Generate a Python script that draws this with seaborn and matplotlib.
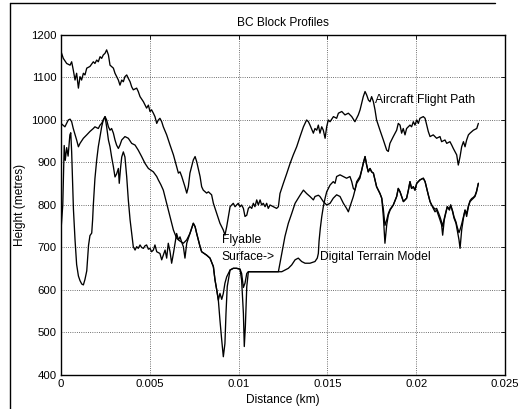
import matplotlib
matplotlib.use("Agg")
import matplotlib.pyplot as plt
from matplotlib.lines import Line2D
import seaborn as sns
import pandas as pd

# ---------------- data (distance in km, height in metres) ----------------
flight_dist = [0.00000, 0.00013, 0.00032, 0.00051, 0.00060, 0.00069, 0.00079, 0.00088, 0.00098, 0.00107,
               0.00116, 0.00126, 0.00135, 0.00145, 0.00163, 0.00182, 0.00191, 0.00201, 0.00210, 0.00220,
               0.00229, 0.00238, 0.00248, 0.00257, 0.00267, 0.00276, 0.00295, 0.00304, 0.00323, 0.00332,
               0.00342, 0.00351, 0.00360, 0.00370, 0.00379, 0.00389, 0.00398, 0.00407, 0.00426, 0.00435,
               0.00445, 0.00464, 0.00482, 0.00492, 0.00501, 0.00510, 0.00520, 0.00529, 0.00539, 0.00548,
               0.00557, 0.00567, 0.00576, 0.00595, 0.00614, 0.00633, 0.00651, 0.00661, 0.00670, 0.00680,
               0.00698, 0.00708, 0.00717, 0.00726, 0.00745, 0.00755, 0.00764, 0.00783, 0.00792, 0.00801,
               0.00820, 0.00830, 0.00848, 0.00858, 0.00877, 0.00895, 0.00914, 0.00923, 0.00933, 0.00952,
               0.00961, 0.00970, 0.00980, 0.00989, 0.00998, 0.01008, 0.01017, 0.01027, 0.01036, 0.01046,
               0.01055, 0.01064, 0.01074, 0.01083, 0.01092, 0.01102, 0.01111, 0.01121, 0.01130, 0.01139,
               0.01149, 0.01158, 0.01167, 0.01177, 0.01196, 0.01214, 0.01224, 0.01233, 0.01252, 0.01271,
               0.01290, 0.01308, 0.01327, 0.01346, 0.01365, 0.01383, 0.01393, 0.01402, 0.01421, 0.01430,
               0.01440, 0.01449, 0.01458, 0.01468, 0.01477, 0.01487, 0.01496, 0.01505, 0.01515, 0.01534,
               0.01552, 0.01562, 0.01581, 0.01599, 0.01618, 0.01637, 0.01655, 0.01674, 0.01684, 0.01693,
               0.01702, 0.01712, 0.01721, 0.01731, 0.01740, 0.01749, 0.01759, 0.01768, 0.01777, 0.01796,
               0.01815, 0.01834, 0.01843, 0.01852, 0.01871, 0.01890, 0.01899, 0.01909, 0.01918, 0.01927,
               0.01937, 0.01946, 0.01965, 0.01974, 0.01984, 0.01993, 0.02003, 0.02012, 0.02021, 0.02040,
               0.02050, 0.02059, 0.02068, 0.02078, 0.02096, 0.02115, 0.02134, 0.02143, 0.02162, 0.02172,
               0.02190, 0.02200, 0.02209, 0.02228, 0.02237, 0.02247, 0.02256, 0.02266, 0.02275, 0.02284,
               0.02294, 0.02303, 0.02322, 0.02341, 0.02350]
flight_height = [1161, 1145, 1133, 1129, 1137, 1118, 1094, 1110, 1075, 1102,
                 1094, 1110, 1106, 1122, 1126, 1137, 1133, 1141, 1137, 1149,
                 1145, 1153, 1157, 1165, 1153, 1129, 1122, 1110, 1094, 1082,
                 1094, 1090, 1102, 1106, 1098, 1090, 1078, 1071, 1075, 1067,
                 1055, 1043, 1028, 1035, 1020, 1024, 1016, 1008, 992, 1000,
                 1004, 996, 984, 965, 941, 918, 890, 875, 878, 867,
                 843, 828, 843, 875, 906, 914, 902, 867, 843, 835,
                 828, 831, 824, 804, 780, 757, 741, 729, 749, 796,
                 800, 804, 796, 800, 804, 796, 800, 792, 773, 776,
                 792, 796, 792, 804, 796, 812, 800, 812, 800, 804,
                 796, 804, 792, 800, 796, 792, 796, 827, 851, 874,
                 898, 918, 937, 961, 984, 1000, 996, 988, 969, 980,
                 976, 988, 969, 984, 976, 957, 984, 1000, 996, 1008,
                 1004, 1016, 1020, 1012, 1016, 1008, 996, 1012, 1024, 1039,
                 1055, 1067, 1059, 1047, 1043, 1055, 1043, 1024, 1000, 976,
                 953, 929, 926, 945, 961, 976, 992, 988, 969, 980,
                 965, 980, 988, 984, 996, 988, 1000, 992, 1004, 1008,
                 1004, 988, 973, 961, 965, 957, 961, 949, 953, 945,
                 949, 941, 933, 918, 894, 914, 937, 949, 937, 953,
                 965, 969, 976, 980, 992]

flyable_dist = [0.00000, 0.00022, 0.00041, 0.00051, 0.00060, 0.00069, 0.00088, 0.00098, 0.00107, 0.00126,
                0.00145, 0.00163, 0.00182, 0.00191, 0.00210, 0.00220, 0.00229, 0.00238, 0.00248, 0.00257,
                0.00267, 0.00276, 0.00285, 0.00295, 0.00304, 0.00313, 0.00323, 0.00332, 0.00342, 0.00360,
                0.00379, 0.00398, 0.00417, 0.00435, 0.00454, 0.00473, 0.00492, 0.00520, 0.00539, 0.00548,
                0.00562, 0.00576, 0.00595, 0.00614, 0.00633, 0.00651, 0.00670, 0.00689, 0.00708, 0.00726,
                0.00745, 0.00755, 0.00764, 0.00783, 0.00792, 0.00820, 0.00839, 0.00858, 0.00867, 0.00877,
                0.00886, 0.00895, 0.00905, 0.00914, 0.00923, 0.00933, 0.00952, 0.00970, 0.00989, 0.01008,
                0.01017, 0.01027, 0.01036, 0.01046, 0.01055, 0.01224, 0.01243, 0.01261, 0.01280, 0.01299,
                0.01318, 0.01346, 0.01365, 0.01383, 0.01402, 0.01421, 0.01430, 0.01449, 0.01458, 0.01477,
                0.01496, 0.01515, 0.01533, 0.01552, 0.01571, 0.01590, 0.01608, 0.01618, 0.01627, 0.01646,
                0.01665, 0.01683, 0.01693, 0.01702, 0.01712, 0.01721, 0.01730, 0.01740, 0.01749, 0.01759,
                0.01768, 0.01777, 0.01796, 0.01806, 0.01815, 0.01824, 0.01834, 0.01843, 0.01853, 0.01871,
                0.01890, 0.01899, 0.01909, 0.01918, 0.01928, 0.01937, 0.01946, 0.01956, 0.01965, 0.01974,
                0.01984, 0.01993, 0.02003, 0.02021, 0.02040, 0.02050, 0.02059, 0.02068, 0.02078, 0.02087,
                0.02096, 0.02106, 0.02115, 0.02125, 0.02134, 0.02143, 0.02149, 0.02158, 0.02166, 0.02175,
                0.02187, 0.02194, 0.02205, 0.02213, 0.02224, 0.02231, 0.02241, 0.02247, 0.02256, 0.02266,
                0.02275, 0.02284, 0.02294, 0.02303, 0.02312, 0.02322, 0.02331, 0.02340, 0.02350]
flyable_height = [992, 984, 1000, 1002, 996, 980, 953, 937, 945, 957,
                  965, 973, 980, 984, 980, 988, 992, 1000, 1008, 1000,
                  984, 976, 980, 969, 953, 941, 933, 941, 953, 961,
                  957, 945, 941, 929, 914, 898, 886, 878, 867, 859,
                  848, 835, 804, 773, 741, 722, 715, 710, 718, 733,
                  757, 749, 733, 702, 690, 682, 675, 655, 624, 600,
                  576, 592, 578, 592, 616, 631, 647, 651, 651, 649,
                  639, 606, 616, 639, 643, 643, 686, 726, 757, 780,
                  804, 823, 835, 827, 820, 812, 820, 823, 820, 808,
                  800, 804, 816, 824, 820, 804, 792, 784, 796, 820,
                  851, 863, 882, 898, 914, 894, 878, 886, 878, 875,
                  859, 843, 827, 816, 790, 752, 765, 780, 790, 800,
                  820, 839, 831, 820, 808, 812, 816, 835, 855, 839,
                  843, 835, 851, 859, 863, 855, 839, 824, 808, 800,
                  795, 790, 792, 782, 772, 760, 750, 768, 782, 796,
                  790, 800, 786, 772, 760, 748, 735, 742, 755, 772,
                  788, 780, 798, 810, 815, 818, 822, 833, 851]

terrain_dist = [0.00000, 0.00010, 0.00018, 0.00024, 0.00032, 0.00040, 0.00050, 0.00055, 0.00060, 0.00065,
                0.00070, 0.00075, 0.00079, 0.00088, 0.00098, 0.00107, 0.00117, 0.00126, 0.00135, 0.00145,
                0.00155, 0.00163, 0.00173, 0.00178, 0.00182, 0.00191, 0.00201, 0.00210, 0.00220, 0.00229,
                0.00238, 0.00248, 0.00257, 0.00267, 0.00276, 0.00285, 0.00295, 0.00304, 0.00313, 0.00323,
                0.00328, 0.00336, 0.00342, 0.00351, 0.00360, 0.00370, 0.00379, 0.00389, 0.00398, 0.00407,
                0.00417, 0.00426, 0.00435, 0.00445, 0.00454, 0.00464, 0.00473, 0.00482, 0.00492, 0.00501,
                0.00510, 0.00520, 0.00529, 0.00539, 0.00548, 0.00557, 0.00567, 0.00576, 0.00586, 0.00595,
                0.00604, 0.00614, 0.00623, 0.00633, 0.00642, 0.00651, 0.00661, 0.00670, 0.00680, 0.00689,
                0.00698, 0.00708, 0.00726, 0.00745, 0.00755, 0.00764, 0.00783, 0.00792, 0.00820, 0.00839,
                0.00858, 0.00867, 0.00877, 0.00886, 0.00895, 0.00905, 0.00914, 0.00923, 0.00929, 0.00936,
                0.00952, 0.00970, 0.00989, 0.01008, 0.01017, 0.01027, 0.01032, 0.01038, 0.01046, 0.01055,
                0.01243, 0.01261, 0.01280, 0.01299, 0.01318, 0.01336, 0.01355, 0.01374, 0.01402, 0.01430,
                0.01443, 0.01449, 0.01453, 0.01460, 0.01468, 0.01477, 0.01487, 0.01496, 0.01515, 0.01533,
                0.01543, 0.01552, 0.01571, 0.01590, 0.01608, 0.01627, 0.01637, 0.01646, 0.01655, 0.01665,
                0.01683, 0.01693, 0.01702, 0.01712, 0.01721, 0.01730, 0.01740, 0.01749, 0.01759, 0.01768,
                0.01777, 0.01796, 0.01806, 0.01815, 0.01824, 0.01834, 0.01843, 0.01853, 0.01871, 0.01890,
                0.01899, 0.01909, 0.01918, 0.01928, 0.01937, 0.01946, 0.01956, 0.01965, 0.01974, 0.01984,
                0.01993, 0.02003, 0.02021, 0.02040, 0.02050, 0.02059, 0.02068, 0.02078, 0.02087, 0.02096,
                0.02106, 0.02115, 0.02125, 0.02134, 0.02143, 0.02149, 0.02158, 0.02166, 0.02175, 0.02187,
                0.02194, 0.02205, 0.02213, 0.02224, 0.02231, 0.02241, 0.02247, 0.02256, 0.02266, 0.02275,
                0.02284, 0.02294, 0.02303, 0.02312, 0.02322, 0.02331, 0.02340, 0.02350]
terrain_height = [741, 800, 940, 905, 935, 915, 965, 970, 925, 860,
                  790, 750, 718, 660, 633, 622, 614, 612, 625, 645,
                  705, 728, 734, 765, 800, 862, 906, 937, 961, 984,
                  1000, 1008, 984, 953, 937, 913, 890, 866, 873, 886,
                  851, 890, 913, 925, 913, 866, 812, 765, 734, 702,
                  694, 702, 698, 706, 700, 698, 704, 706, 696, 698,
                  690, 694, 706, 690, 688, 686, 671, 682, 694, 675,
                  710, 690, 663, 686, 710, 733, 718, 725, 712, 702,
                  675, 710, 733, 757, 749, 733, 702, 690, 682, 675,
                  655, 624, 600, 576, 529, 482, 443, 474, 545, 608,
                  647, 651, 651, 649, 623, 545, 467, 514, 608, 643,
                  643, 647, 651, 659, 671, 675, 667, 663, 663, 667,
                  675, 686, 715, 745, 772, 796, 816, 831, 847, 855,
                  851, 867, 871, 867, 863, 867, 855, 839, 835, 855,
                  867, 882, 898, 914, 894, 878, 886, 878, 875, 859,
                  843, 827, 816, 773, 710, 753, 776, 788, 800, 820,
                  839, 831, 820, 808, 812, 816, 835, 855, 839, 843,
                  835, 851, 859, 863, 855, 839, 824, 808, 800, 792,
                  784, 788, 776, 765, 753, 729, 765, 780, 796, 788,
                  800, 784, 769, 757, 741, 718, 698, 741, 769, 788,
                  773, 796, 808, 812, 816, 820, 831, 851]

x_ticks = [0, 0.005, 0.01, 0.015, 0.02, 0.025]
x_tick_labels = ["0", "0.005", "0.01", "0.015", "0.02", "0.025"]
y_ticks = [400, 500, 600, 700, 800, 900, 1000, 1100, 1200]
y_tick_labels = ["400", "500", "600", "700", "800", "900", "1000", "1100", "1200"]

# ---------------- figure ----------------
sns.set_theme(style="white")
plt.rcParams["font.family"] = ["Liberation Sans", "DejaVu Sans"]

fig = plt.figure(figsize=(5.24, 4.09), dpi=100)
fig.patch.set_facecolor("white")
ax = fig.add_axes([61 / 524, 1 - 375 / 409, 444 / 524, 340 / 409])
ax.set_facecolor("white")

df_flight = pd.DataFrame({"d": flight_dist, "h": flight_height})
df_fly = pd.DataFrame({"d": flyable_dist, "h": flyable_height})
df_dtm = pd.DataFrame({"d": terrain_dist, "h": terrain_height})

for df in (df_flight, df_fly, df_dtm):
    sns.lineplot(data=df, x="d", y="h", ax=ax, color="black", linewidth=0.95,
                 sort=False, estimator=None)

ax.set_xlim(0, 0.025)
ax.set_ylim(400, 1200)
ax.set_xticks(x_ticks)
ax.set_xticklabels(x_tick_labels)
ax.set_yticks(y_ticks)
ax.set_yticklabels(y_tick_labels)
ax.tick_params(axis="both", direction="in", length=3, width=0.6, labelsize=8.2,
               colors="black", top=True, right=True, pad=3)
ax.grid(True, linestyle=":", color="black", linewidth=0.6, alpha=0.75)
for s in ax.spines.values():
    s.set_visible(True)
    s.set_color("black")
    s.set_linewidth(1.0)

ax.set_xlabel("Distance (km)", fontsize=8.6, color="black")
ax.set_ylabel("Height (metres)", fontsize=8.6, color="black")
ax.xaxis.set_label_coords(0.5, -0.057)
ax.yaxis.set_label_coords(-0.078, 0.5)
ax.text(0.5, 1.035, "BC Block Profiles", transform=ax.transAxes, ha="center",
        va="center", fontsize=8.6, color="black")

ax.text(0.01768, 1047, "Aircraft Flight Path", fontsize=8.7, ha="left", va="center", color="black")
ax.text(0.00905, 718, "Flyable", fontsize=8.7, ha="left", va="center", color="black")
ax.text(0.00905, 678, "Surface->", fontsize=8.7, ha="left", va="center", color="black")
ax.text(0.01458, 677, "Digital Terrain Model", fontsize=8.7, ha="left", va="center", color="black")

# scanned page frame (left and top edges)
fig.add_artist(Line2D([10 / 524, 10 / 524], [0, 1 - 3 / 409], transform=fig.transFigure,
                      color="black", linewidth=1.0))
fig.add_artist(Line2D([10 / 524, 495 / 524], [1 - 3 / 409, 1 - 3 / 409], transform=fig.transFigure,
                      color="black", linewidth=1.0))

fig.savefig("out.png", dpi=100, facecolor="white")
